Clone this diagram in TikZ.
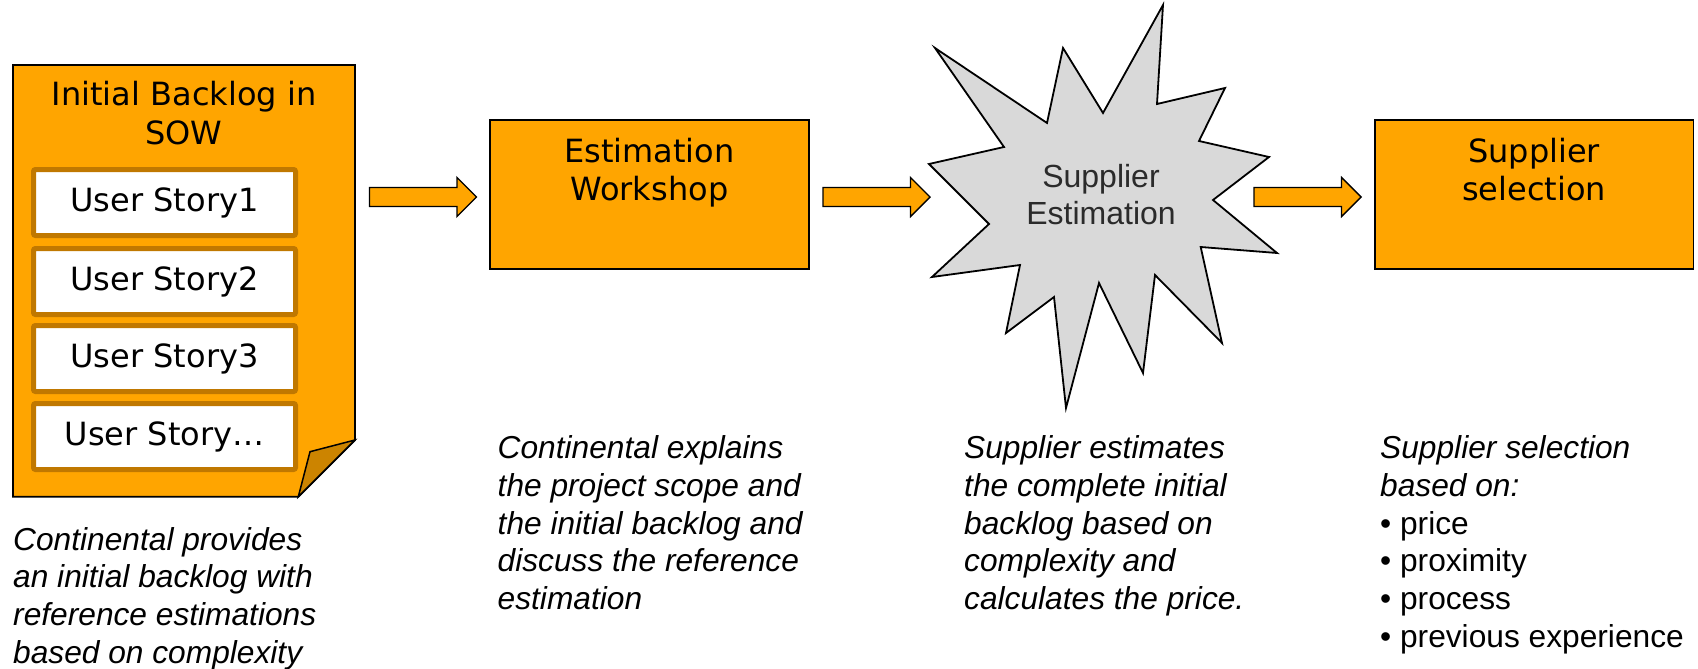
\documentclass[tikz,border=0pt]{standalone}
\usepackage{fontspec}
\setmainfont{Liberation Sans}
\newfontfamily\verdlike{DejaVu Sans}
\usetikzlibrary{calc}

\definecolor{procorange}{HTML}{FFA500}
\definecolor{foldorange}{HTML}{CC8400}
\definecolor{storyedge}{HTML}{C07800}
\definecolor{burstgray}{HTML}{D9D9D9}
\definecolor{bursttext}{HTML}{2B2B2B}

\tikzset{
  procbox/.style={draw=black, line width=1.8pt, fill=procorange,
    minimum width=318.8pt, minimum height=149pt, inner sep=0pt},
  boxlabel/.style={font=\verdlike\fontsize{32}{38}\selectfont,
    align=center, inner sep=0pt, anchor=north},
  storybox/.style={draw=storyedge, line width=5pt, fill=white,
    rounded corners=2pt, minimum width=262pt, minimum height=66pt,
    inner sep=0pt, font=\verdlike\fontsize{32}{38}\selectfont},
  caption/.style={font=\itshape\fontsize{31.7}{37.7}\selectfont,
    align=left, anchor=north west, inner sep=0pt},
  arrowbody/.style={draw=black, line width=1.4pt, fill=procorange, line join=miter},
  blockarrow/.pic={
    \draw[arrowbody] (0,-9.5) -- (87.5,-9.5) -- (87.5,-19.5) -- (107,0)
      -- (87.5,19.5) -- (87.5,9.5) -- (0,9.5) -- cycle;
  }
}

\begin{document}
\begin{tikzpicture}[x=1pt, y=-1pt]
\useasboundingbox (0,0) rectangle (1698,669);

% --- backlog document with folded corner ---
\draw[line width=1.8pt, fill=procorange, line join=miter]
  (13,65) -- (355,65) -- (355,440) -- (298.3,496.7) -- (13,496.7) -- cycle;
\draw[line width=1.5pt, fill=foldorange, line join=miter]
  (298.3,496.7) -- (310,451.7) -- (355,440) -- cycle;
\node[boxlabel, font=\verdlike\fontsize{32}{38.5}\selectfont] (doctitle)
  at (184,78.5) {\strut Initial Backlog in\\SOW};

\node[storybox] (us1) at (164.5,202.5) {User Story1};
\node[storybox] (us2) at (164.5,281.5) {User Story2};
\node[storybox] (us3) at (164.5,358.5) {User Story3};
\node[storybox] (us4) at (164.5,436.5) {User Story\dots};

% --- estimation workshop ---
\node[procbox] (est) at (649.4,194.5) {};
\node[boxlabel] (esttext) at (649.4,135.4) {\strut Estimation\\Workshop};

% --- supplier estimation burst ---
\draw[line width=1.8pt, fill=burstgray, line join=miter]
  (935,48) -- (1047,123) -- (1063,48) -- (1103,113) -- (1163,5)
  -- (1157,104) -- (1225,88) -- (1199,141) -- (1269,157) -- (1213,200)
  -- (1277,253) -- (1200.7,247) -- (1222,343) -- (1155,275) -- (1143,373)
  -- (1099,283) -- (1066,408) -- (1054,297) -- (1006,333) -- (1020,265)
  -- (932,277) -- (989,224) -- (929,164) -- (1004,147) -- cycle;
\node[inner sep=0pt, anchor=north, align=center, text=bursttext,
  font=\fontsize{32}{37}\selectfont] (burst) at (1101,161.1)
  {\strut Supplier\\Estimation};

% --- supplier selection ---
\node[procbox] (sel) at (1534.1,194.5) {};
\node[boxlabel] (seltext) at (1534.1,135.4) {\strut Supplier\\selection};

% --- block arrows between the stages ---
\coordinate (a1) at (369.5,197);
\coordinate (a2) at (823,197);
\coordinate (a3) at (1254,197);
\pic at (a1) {blockarrow};
\pic at (a2) {blockarrow};
\pic at (a3) {blockarrow};

% --- descriptions ---
\node[caption] (cap1) at (13,523.6)
  {\strut Continental provides\\an initial backlog with\\reference estimations\\based on complexity};
\node[caption] (cap2) at (497.5,432.1)
  {\strut Continental explains\\the project scope and\\the initial backlog and\\discuss the reference\\estimation};
\node[caption] (cap3) at (964,432.1)
  {\strut Supplier estimates\\the complete initial\\backlog based on\\complexity and\\calculates the price.};
\node[caption] (cap4) at (1380,432.1)
  {\strut Supplier selection\\based on:\\{\upshape • price}\\{\upshape • proximity}\\{\upshape • process}\\{\upshape • previous experience}};
\end{tikzpicture}
\end{document}
